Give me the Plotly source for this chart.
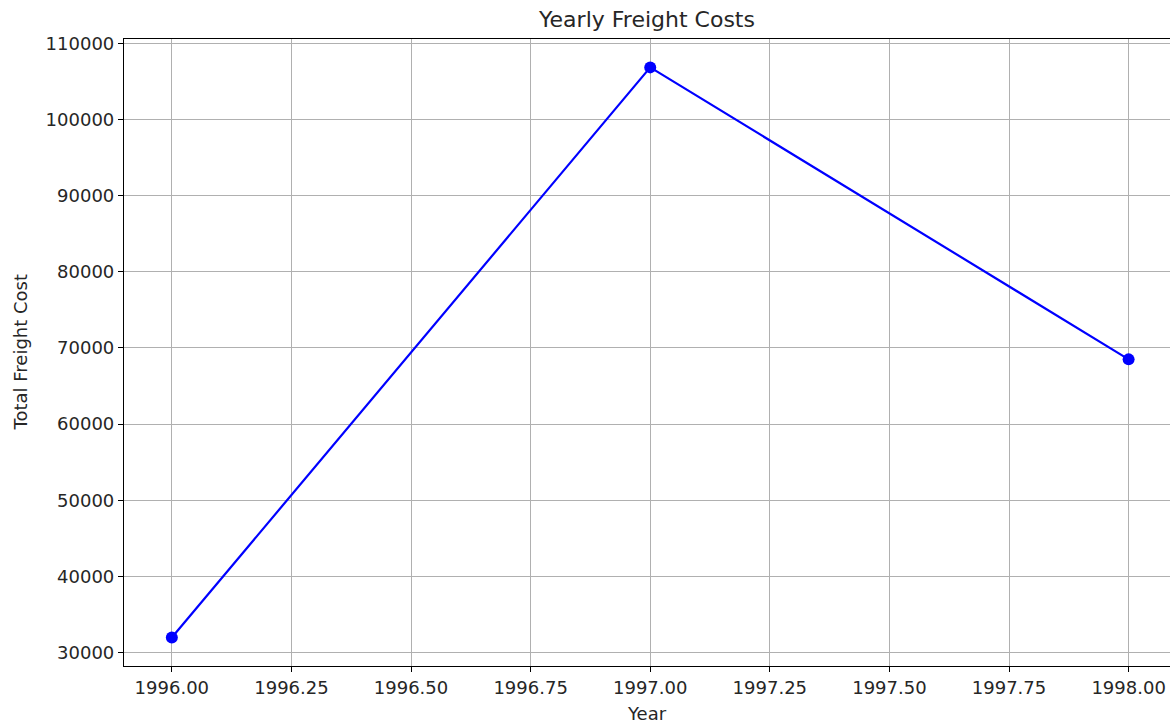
import plotly.graph_objects as go

years = [1996, 1997, 1998]
freight = [31975, 106840, 68500]

title_text = "Yearly Freight Costs"
x_label = "Year"
y_label = "Total Freight Cost"

W, H = 1170, 725
L, R, T, B = 124, 0, 39, 59

fig = go.Figure()
fig.add_trace(go.Scatter(
    x=years, y=freight, mode="lines+markers",
    line=dict(color="#0000ff", width=2.2),
    marker=dict(color="#0000ff", size=12),
    showlegend=False,
))

font = "DejaVu Sans, sans-serif"
tick_font = dict(size=18, color="#262626", family=font)
fig.update_layout(
    width=W, height=H,
    margin=dict(l=L, r=R, t=T, b=B),
    paper_bgcolor="white", plot_bgcolor="white",
    font=dict(family=font, size=18, color="#262626"),
    title=dict(text=title_text, x=0.5 * (L + W - R) / W,
               xanchor="center", xref="container",
               y=1 - 19 / H, yanchor="middle", yref="container",
               font=dict(size=22, color="#262626", family=font)),
    annotations=[
        dict(text=x_label, xref="paper", yref="paper", x=0.5, y=-(713 - 666) / (666 - 39),
             xanchor="center", yanchor="middle", showarrow=False,
             font=dict(size=18, color="#262626", family=font)),
        dict(text=y_label, xref="paper", yref="paper", x=-(124 - 20) / (W - R - L), y=0.5,
             xanchor="center", yanchor="middle", showarrow=False, textangle=-90,
             font=dict(size=18, color="#262626", family=font)),
    ],
)
fig.update_xaxes(
    range=[1995.9, 1998.0865], tick0=1996, dtick=0.25, tickformat=".2f",
    showgrid=True, gridcolor="#b0b0b0", gridwidth=1.1,
    showline=True, linecolor="black", linewidth=1.2, mirror=True,
    ticks="outside", ticklen=5, tickcolor="black", tickwidth=1.2,
    zeroline=False, tickfont=tick_font,
)
fig.update_yaxes(
    range=[28237, 110566], tick0=30000, dtick=10000, tickformat="d",
    showgrid=True, gridcolor="#b0b0b0", gridwidth=1.1,
    showline=True, linecolor="black", linewidth=1.2,
    ticks="outside", ticklen=5, tickcolor="black", tickwidth=1.2,
    zeroline=False, tickfont=tick_font,
)

fig.write_html("out.html", config={"displayModeBar": False},
               post_script="document.body.style.margin='0';document.body.style.overflow='hidden';")
